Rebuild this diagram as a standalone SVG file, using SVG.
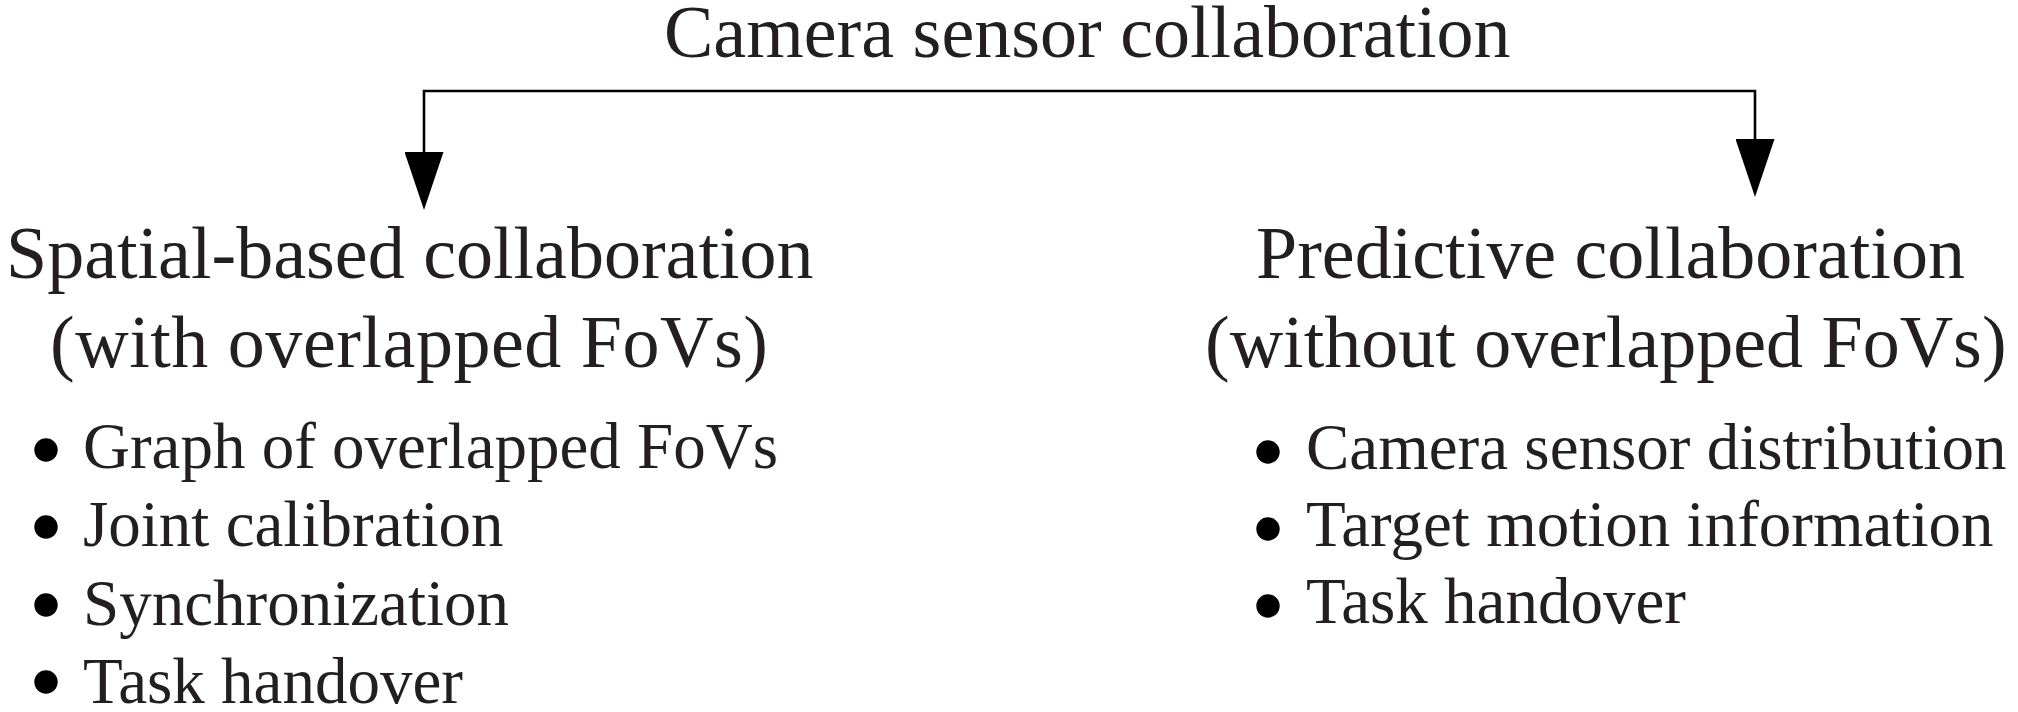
<svg xmlns="http://www.w3.org/2000/svg" width="2018" height="712" viewBox="0 0 2018 712">
<style>
text{font-family:"Liberation Serif","Times New Roman",serif;fill:#231f20}
.t{font-size:74px}
.b{font-size:65px}
.c{stroke:#000;stroke-width:2.6;fill:none}
.dot{fill:#000}
</style>
<defs>
<marker id="ah" viewBox="0 0 58 39" refX="0" refY="19.5" markerWidth="58" markerHeight="39" markerUnits="userSpaceOnUse" orient="auto">
<path d="M0,0 L58,19.5 L0,39 Z" fill="#000"/>
</marker>
</defs>
<rect width="2018" height="712" fill="#fff"/>
<g id="root"><text class="t" x="664" y="57">Camera sensor collaboration</text></g>
<g id="connectors">
<path class="c" d="M1090,91 H424 V152" marker-end="url(#ah)"/>
<path class="c" d="M1090,91 H1755 V139" marker-end="url(#ah)"/>
</g>
<g id="spatial">
<text class="t" x="6" y="278">Spatial-based collaboration</text>
<text class="t" x="50" y="367" textLength="718" lengthAdjust="spacing">(with overlapped FoVs)</text>
<circle class="dot" cx="46" cy="450" r="11.7"/>
<text class="b" x="83" y="468">Graph of overlapped FoVs</text>
<circle class="dot" cx="46" cy="527" r="11.7"/>
<text class="b" x="83" y="546">Joint calibration</text>
<circle class="dot" cx="46" cy="605" r="11.7"/>
<text class="b" x="83" y="625">Synchronization</text>
<circle class="dot" cx="46" cy="682" r="11.7"/>
<text class="b" x="83" y="703">Task handover</text>
</g>
<g id="predictive">
<text class="t" x="1256" y="278">Predictive collaboration</text>
<text class="t" x="1205" y="367">(without overlapped FoVs)</text>
<circle class="dot" cx="1268" cy="452" r="11.7"/>
<text class="b" x="1306" y="469">Camera sensor distribution</text>
<circle class="dot" cx="1268" cy="529" r="11.7"/>
<text class="b" x="1306" y="546">Target motion information</text>
<circle class="dot" cx="1268" cy="606" r="11.7"/>
<text class="b" x="1306" y="623">Task handover</text>
</g>
</svg>
